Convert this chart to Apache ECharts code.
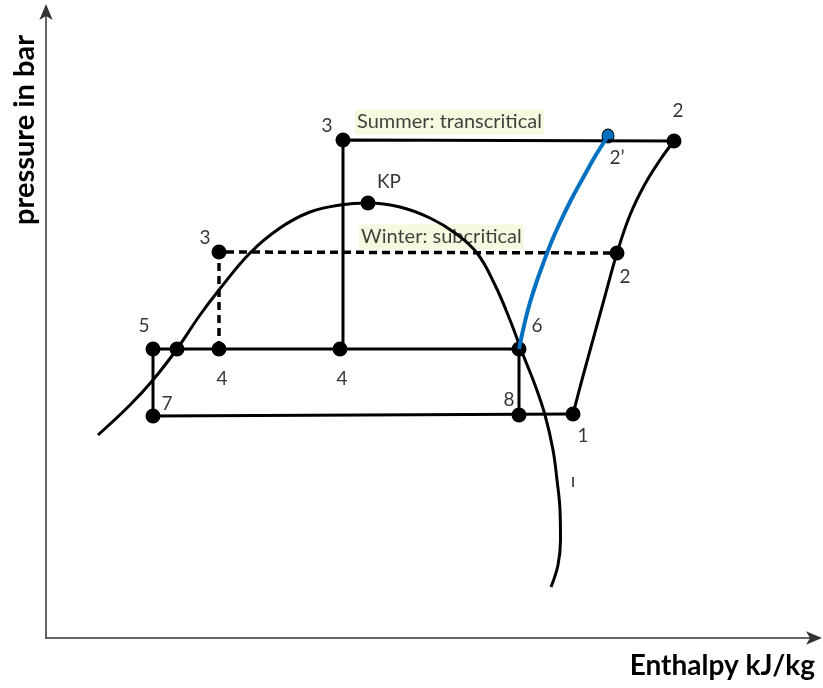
<!DOCTYPE html>
<html lang="en">
<head>
    <meta charset="UTF-8">
    <title>p-h diagram</title>
    <style>
        body { margin: 0; }
        #chart { width: 823px; height: 688px; }
    </style>
</head>
<body>
    <div id="chart"></div>
    <script src="https://cdn.jsdelivr.net/npm/echarts@6/dist/echarts.min.js"></script>
    <script>
        // schematic units: enthalpy h (x) and pressure p (y), arbitrary scale
        const dome = [[52, 203], [84, 233], [107, 258], [131, 289], [154, 323], [173, 348], [204, 385],
            [234, 410], [264, 426], [294, 433], [322, 435], [354, 431], [384, 420], [409, 405],
            [431, 385], [449, 353], [464, 318], [476, 286], [489, 253], [499, 223], [507, 188],
            [511, 158], [514, 128], [514.5, 98], [512, 73], [505, 51]];
        const compression = [[527, 224], [537, 262], [548, 302], [559, 342], [571, 385],
            [584, 423], [599, 454], [614, 478], [628, 497]];
        const blueCurve = [[473, 289], [477.5, 310], [483, 332], [489.5, 353], [497, 374],
            [505.4, 396], [514.7, 417], [525, 438], [536.4, 459], [548.7, 481], [562, 502]];
        const summerHigh = [[297, 289], [297, 498], [628, 497]];
        const winterHigh = [[173, 289], [173, 386], [571, 385]];
        const evapLine = [[107, 289], [473, 289]];
        const lowLoop = [[107, 289], [107, 222], [527, 224]];
        const valve8 = [[473, 289], [473, 223]];
        const statePoints = [[297, 498], [628, 497], [571, 385], [173, 386], [322, 435],
            [107, 289], [131, 289], [173, 289], [294, 289], [473, 289], [107, 222], [473, 223], [527, 224]];
        const point2s = [[562, 502]];
        const labels = [
            ['3', 281, 512], ['2', 632, 527], ['2\u2019', 571, 480], ['KP', 343, 456],
            ['3', 159, 400], ['2', 579, 361], ['5', 98, 312], ['4', 176, 259], ['4', 296, 259],
            ['6', 491, 312], ['7', 121, 234], ['8', 463, 238], ['1', 537, 202], ['\u0131', 527, 157]
        ];
        const notes = [['Summer: transcritical', 309, 516], ['Winter: subcritical', 313, 401]];

        const black = '#000';
        const lineSeries = (data, extra) => Object.assign({
            type: 'line', data: data, symbol: 'none', silent: true,
            lineStyle: { color: black, width: 3 }
        }, extra || {});

        const chart = echarts.init(document.getElementById('chart'));
        chart.setOption({
            animation: false,
            grid: { left: 46, right: 9, top: 12, bottom: 50 },
            xAxis: {
                type: 'value', min: 0, max: 768,
                axisLine: { lineStyle: { color: '#333', width: 1.5 }, symbol: ['none', 'arrow'], symbolSize: [10, 16], symbolOffset: [0, 8] },
                axisTick: { show: false }, axisLabel: { show: false }, splitLine: { show: false }
            },
            yAxis: {
                type: 'value', min: 0, max: 626,
                axisLine: { lineStyle: { color: '#333', width: 1.5 }, symbol: ['none', 'arrow'], symbolSize: [10, 16], symbolOffset: [0, 8] },
                axisTick: { show: false }, axisLabel: { show: false }, splitLine: { show: false }
            },
            graphic: [
                { type: 'text', left: 10, top: 35, rotation: Math.PI / 2,
                  style: { text: 'pressure in bar', font: 'bold 29px Lato', fill: '#000' } },
                { type: 'text', right: 8, top: 652,
                  style: { text: 'Enthalpy kJ/kg', font: 'bold 28px Lato', fill: '#000' } }
            ],
            series: [
                lineSeries(dome, { smooth: 0.4 }),
                lineSeries(summerHigh),
                lineSeries(winterHigh, { lineStyle: { color: black, width: 3.5, type: [8, 5] } }),
                lineSeries(evapLine),
                lineSeries(lowLoop),
                lineSeries(valve8),
                lineSeries(compression, { smooth: 0.4 }),
                lineSeries(blueCurve, { smooth: 0.4, lineStyle: { color: '#0070c0', width: 4 } }),
                {
                    type: 'scatter', data: statePoints, symbolSize: 15, silent: true,
                    itemStyle: { color: black, opacity: 1 }
                },
                {
                    type: 'scatter', data: point2s, symbolSize: [12, 14], silent: true,
                    itemStyle: { color: '#0070c0', borderColor: black, borderWidth: 1, opacity: 1 }
                },
                {
                    type: 'scatter', symbolSize: 0, silent: true,
                    data: labels.map(l => ({ value: [l[1], l[2]], name: l[0] })),
                    label: { show: true, position: 'inside', formatter: p => p.name,
                        fontFamily: 'Lato', fontSize: 19, color: black }
                },
                {
                    type: 'scatter', symbolSize: 0, silent: true,
                    data: notes.map(l => ({ value: [l[1], l[2]], name: l[0] })),
                    label: { show: true, position: 'right', distance: 0, formatter: p => p.name,
                        fontFamily: 'Lato', fontSize: 20, color: '#111',
                        backgroundColor: '#f3f8d8', padding: [3, 2, 2, 2] }
                }
            ]
        });
    </script>
</body>
</html>
